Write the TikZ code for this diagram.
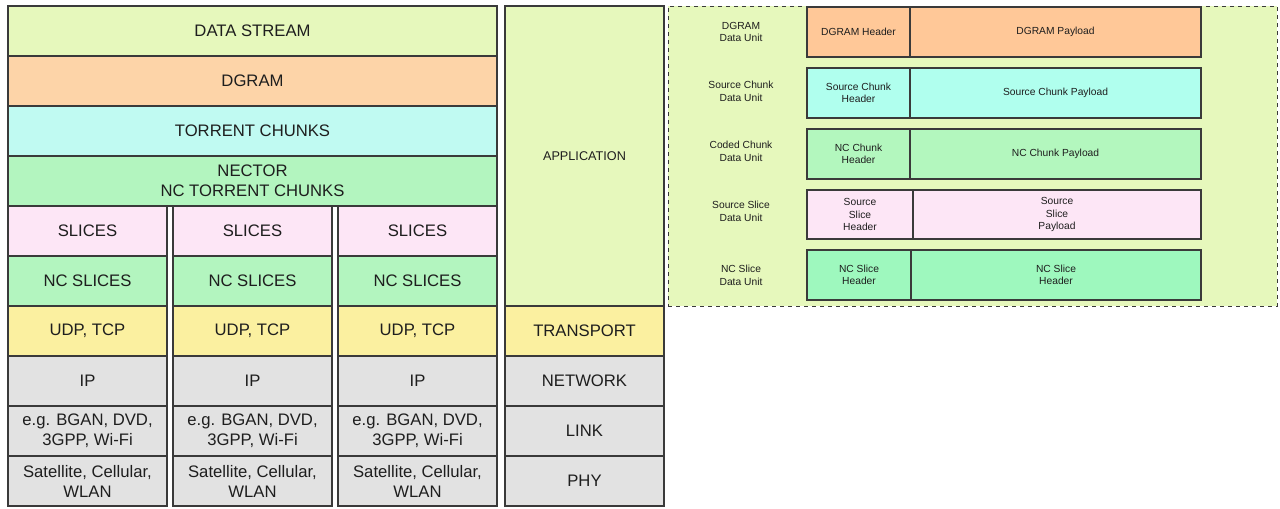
\documentclass[tikz,border=0pt]{standalone}
\usepackage{fontspec}
\setmainfont{Liberation Sans}
\definecolor{lineC}{HTML}{3A3A3A}
\definecolor{txtC}{HTML}{1E1E1E}
\definecolor{cStream}{HTML}{E6F8BC}
\definecolor{cDgram}{HTML}{FDD4A8}
\definecolor{cTorrent}{HTML}{C0FAF2}
\definecolor{cNector}{HTML}{B3F5BF}
\definecolor{cSlice}{HTML}{FDE6F6}
\definecolor{cUdp}{HTML}{FBF0A0}
\definecolor{cGray}{HTML}{E2E2E2}
\definecolor{rDgram}{HTML}{FFC898}
\definecolor{rChunk}{HTML}{B0FFEE}
\definecolor{rNcChunk}{HTML}{B3F7BE}
\definecolor{rSlice}{HTML}{FDE6F6}
\definecolor{rNcSlice}{HTML}{9EF8BE}
\tikzset{
  cell/.style={draw=lineC, line width=0.8pt, rectangle, inner sep=0pt, align=center, text=txtC},
  bigtxt/.style={font=\fontsize{12.5}{15}\selectfont},
  smalltxt/.style={font=\fontsize{7.7}{9.3}\selectfont},
  lbl/.style={inner sep=0pt, align=center, text=txtC, font=\fontsize{7.7}{9.6}\selectfont}
}
\newcommand\cell[8]{\node[cell, #7, fill=#6, minimum width={(#4-#2)*0.75pt}, minimum height={(#5-#3)*0.75pt}] (#1) at ({(#2+#4)/2},{(#3+#5)/2}) {#8};}
\begin{document}
\begin{tikzpicture}[x=0.75pt, y=-0.75pt]
\useasboundingbox (0,0) rectangle (1280,508);
% main stack
\cell{ds}{8}{6}{497}{56}{cStream}{bigtxt}{DATA STREAM}
\cell{dg}{8}{56}{497}{106}{cDgram}{bigtxt}{DGRAM}
\cell{tc}{8}{106}{497}{156}{cTorrent}{bigtxt}{TORRENT CHUNKS}
\cell{nc}{8}{156}{497}{206}{cNector}{bigtxt}{NECTOR\\NC TORRENT CHUNKS}
% columns
\foreach \i/\a/\b in {1/8/167, 2/173/332, 3/338/497} {
  \cell{sl\i}{\a}{206}{\b}{256}{cSlice}{bigtxt}{SLICES}
  \cell{ns\i}{\a}{256}{\b}{306}{cNector}{bigtxt}{NC SLICES}
  \cell{ud\i}{\a}{306}{\b}{356}{cUdp}{bigtxt}{UDP, TCP}
  \cell{ip\i}{\a}{356}{\b}{406}{cGray}{bigtxt}{IP}
  \cell{lk\i}{\a}{406}{\b}{456}{cGray}{bigtxt}{e.g. BGAN, DVD,\\3GPP, Wi-Fi}
  \cell{ph\i}{\a}{456}{\b}{506}{cGray}{bigtxt}{Satellite, Cellular,\\WLAN}
}
% layer column
\cell{app}{505}{6}{664}{306}{cStream}{font=\fontsize{9.5}{11}\selectfont}{APPLICATION}
\cell{tr}{505}{306}{664}{356}{cUdp}{bigtxt}{TRANSPORT}
\cell{nw}{505}{356}{664}{406}{cGray}{bigtxt}{NETWORK}
\cell{lnk}{505}{406}{664}{456}{cGray}{bigtxt}{LINK}
\cell{phy}{505}{456}{664}{506}{cGray}{bigtxt}{PHY}
% data unit panel
\node[draw=lineC, line width=0.7pt, dashed, fill=cStream, rectangle, inner sep=0pt,
  minimum width={609*0.75pt}, minimum height={300*0.75pt}] (panel) at (972.5,156) {};
\cell{h1}{807}{7}{910}{57}{rDgram}{smalltxt}{DGRAM Header}
\cell{p1}{910}{7}{1201}{57}{rDgram}{smalltxt}{DGRAM Payload}
\cell{h2}{807}{68}{910}{118}{rChunk}{smalltxt}{Source Chunk\\Header}
\cell{p2}{910}{68}{1201}{118}{rChunk}{smalltxt}{Source Chunk Payload}
\cell{h3}{807}{129}{910}{179}{rNcChunk}{smalltxt}{NC Chunk\\Header}
\cell{p3}{910}{129}{1201}{179}{rNcChunk}{smalltxt}{NC Chunk Payload}
\cell{h4}{807}{190}{913}{239}{rSlice}{smalltxt}{Source\\Slice\\Header}
\cell{p4}{913}{190}{1201}{239}{rSlice}{smalltxt}{Source\\Slice\\Payload}
\cell{h5}{807}{250}{911}{300}{rNcSlice}{smalltxt}{NC Slice\\Header}
\cell{p5}{911}{250}{1201}{300}{rNcSlice}{smalltxt}{NC Slice\\Header}
\node[lbl] (l1) at (741,32) {DGRAM\\Data Unit};
\node[lbl] (l2) at (741,91) {Source Chunk\\Data Unit};
\node[lbl] (l3) at (741,151) {Coded Chunk\\Data Unit};
\node[lbl] (l4) at (741,211) {Source Slice\\Data Unit};
\node[lbl] (l5) at (741,275) {NC Slice\\Data Unit};
\end{tikzpicture}
\end{document}
